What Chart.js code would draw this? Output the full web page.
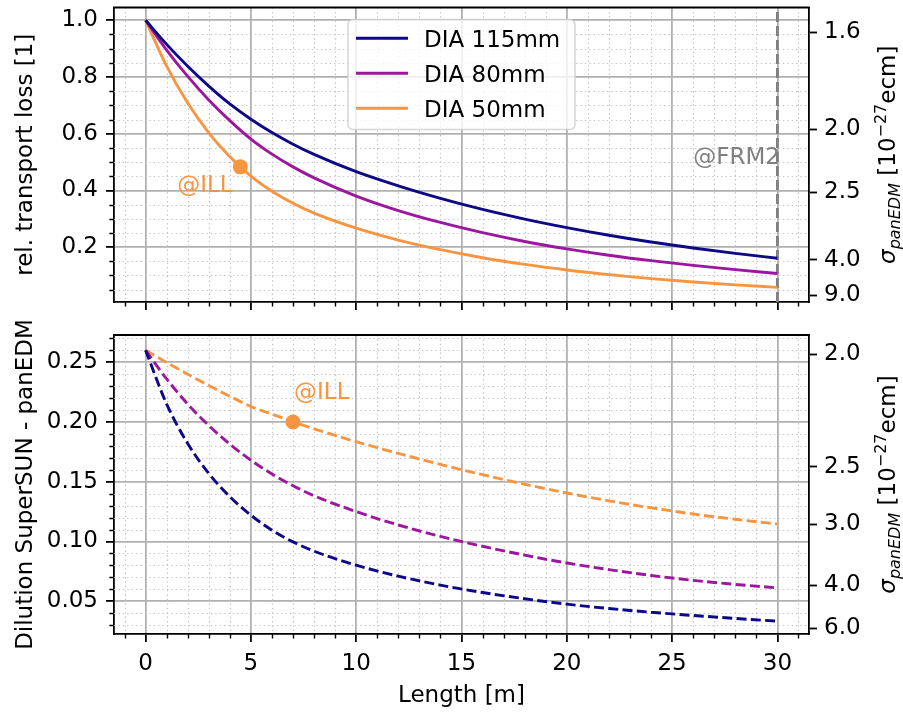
<!DOCTYPE html>
<html>
<head>
<meta charset="utf-8">
<script src="https://cdn.jsdelivr.net/npm/chart.js@4.4.0/dist/chart.umd.min.js"></script>
<style>
  html, body { margin:0; padding:0; background:#fff; }
  #wrap { position:relative; width:903px; height:713px; }
  canvas { position:absolute; left:0; }
  #top { top:0; }
  #bottom { top:320px; }
</style>
</head>
<body>
<div id="wrap">
  <canvas id="top" width="903" height="320"></canvas>
  <canvas id="bottom" width="903" height="393"></canvas>
</div>
<script>
// data
const lengths = [0, 1, 2, 3, 4, 5, 6, 7, 8, 10, 12, 14, 16, 18, 20, 22, 24, 26, 28, 30];
const names = ["DIA 115mm", "DIA 80mm", "DIA 50mm"];
const colors = ["#0d0887", "#9c179e", "#f89540"];

const loss115 = [1.000, 0.915, 0.838, 0.768, 0.705, 0.651, 0.604, 0.563, 0.527, 0.466, 0.416, 0.372, 0.333, 0.299, 0.269, 0.242, 0.218, 0.197, 0.178, 0.161];
const loss80  = [1.000, 0.895, 0.802, 0.719, 0.646, 0.581, 0.528, 0.483, 0.444, 0.380, 0.329, 0.287, 0.251, 0.220, 0.194, 0.1715, 0.1523, 0.1356, 0.1205, 0.107];
const loss50  = [1.000, 0.838, 0.708, 0.603, 0.519, 0.450, 0.397, 0.355, 0.320, 0.267, 0.225, 0.191, 0.1625, 0.139, 0.1195, 0.103, 0.089, 0.077, 0.067, 0.058];

const dil115 = [0.260, 0.215, 0.182, 0.157, 0.1375, 0.122, 0.1095, 0.0997, 0.0919, 0.0802, 0.0710, 0.0635, 0.0573, 0.0521, 0.0476, 0.0439, 0.0408, 0.0381, 0.0356, 0.0333];
const dil80  = [0.260, 0.236, 0.215, 0.197, 0.1815, 0.168, 0.1565, 0.1467, 0.1383, 0.125, 0.1138, 0.1043, 0.0960, 0.0886, 0.0820, 0.0765, 0.0716, 0.0675, 0.0641, 0.0612];
const dil50  = [0.260, 0.2498, 0.2400, 0.2305, 0.2215, 0.2130, 0.2065, 0.2003, 0.1943, 0.1835, 0.1737, 0.1645, 0.1559, 0.1479, 0.1406, 0.1340, 0.1282, 0.1230, 0.1186, 0.1146];

const illTop = {x: 4.5, y: 0.483};
const illBottom = {x: 7.0, y: 0.200};
const frm2X = 30;

// axes
const xTicks = [0, 5, 10, 15, 20, 25, 30];
const xRange = [-1.5, 31.5];
const topTicks = [0.2, 0.4, 0.6, 0.8, 1.0];
const topRange = [0.0065, 1.045];
const topSigma = ["1.6", "2.0", "2.5", "4.0", "9.0"];
const topSigmaAt = [0.957, 0.6155, 0.3932, 0.156, 0.031];
const botTicks = [0.05, 0.10, 0.15, 0.20, 0.25];
const botRange = [0.0226, 0.2728];
const botSigma = ["2.0", "2.5", "3.0", "4.0", "6.0"];
const botSigmaAt = [0.2565, 0.1626, 0.1143, 0.0635, 0.0272];

const FONT = "DejaVu Sans";
const FS = 23;

function series(vals) { return lengths.map((x, i) => ({x: x, y: vals[i]})); }

function minorValues(min, max, step, major) {
  const out = [];
  for (let k = Math.ceil(min / step - 1e-9); k * step <= max + 1e-9; k++) {
    const v = k * step;
    if (major.some(m => Math.abs(m - v) < step / 10)) continue;
    out.push(v);
  }
  return out;
}

function richText(ctx, parts, x, y, rot) {
  ctx.save();
  ctx.translate(x, y);
  ctx.rotate(rot);
  ctx.textAlign = "left";
  ctx.textBaseline = "alphabetic";
  let w = 0;
  parts.forEach(p => {
    ctx.font = (p.style || "") + " " + (p.size || FS) + "px '" + FONT + "'";
    p.w = ctx.measureText(p.t).width;
    w += p.w;
  });
  let cx = -w / 2;
  parts.forEach(p => {
    ctx.font = (p.style || "") + " " + (p.size || FS) + "px '" + FONT + "'";
    ctx.fillText(p.t, cx, p.dy || 0);
    cx += p.w;
  });
  ctx.restore();
}

const sigmaLabel = [
  {t: "σ", style: "italic"},
  {t: "panEDM", style: "italic", size: 16, dy: 5},
  {t: " [10"},
  {t: "−27", size: 16, dy: -9},
  {t: "ecm]"}
];

const decor = {
  id: "decor",
  beforeDatasetsDraw(chart, args, o) {
    const {ctx, chartArea: a} = chart;
    const x = chart.scales.x, y = chart.scales.y;
    ctx.save();
    ctx.beginPath();
    ctx.rect(a.left, a.top, a.right - a.left, a.bottom - a.top);
    ctx.clip();
    ctx.strokeStyle = "#c4c4c4";
    ctx.lineWidth = 1.2;
    ctx.setLineDash([1.4, 3]);
    ctx.beginPath();
    minorValues(x.min, x.max, 1, xTicks).forEach(v => {
      const p = Math.round(x.getPixelForValue(v)) + 0.5;
      ctx.moveTo(p, a.top); ctx.lineTo(p, a.bottom);
    });
    minorValues(y.min, y.max, o.yStep, o.yMajor).forEach(v => {
      const p = Math.round(y.getPixelForValue(v)) + 0.5;
      ctx.moveTo(a.left, p); ctx.lineTo(a.right, p);
    });
    ctx.stroke();
    ctx.restore();
  },
  afterDraw(chart, args, o) {
    const {ctx, chartArea: a} = chart;
    const x = chart.scales.x, y = chart.scales.y;
    ctx.save();
    // minor ticks
    ctx.strokeStyle = "#000";
    ctx.lineWidth = 1.4;
    ctx.beginPath();
    minorValues(x.min, x.max, 1, xTicks).forEach(v => {
      const p = Math.round(x.getPixelForValue(v)) + 0.5;
      ctx.moveTo(p, a.bottom); ctx.lineTo(p, a.bottom + 4.6);
    });
    minorValues(y.min, y.max, o.yStep, o.yMajor).forEach(v => {
      const p = Math.round(y.getPixelForValue(v)) + 0.5;
      ctx.moveTo(a.left, p); ctx.lineTo(a.left - 4.6, p);
    });
    ctx.stroke();
    // top spine
    ctx.lineWidth = 1.8;
    ctx.beginPath();
    ctx.moveTo(a.left - 0.9, a.top); ctx.lineTo(a.right + 0.9, a.top);
    ctx.stroke();

    // annotations
    ctx.font = FS + "px '" + FONT + "'";
    ctx.textAlign = "left";
    ctx.textBaseline = "alphabetic";
    (o.notes || []).forEach(n => {
      ctx.fillStyle = n.color;
      ctx.fillText(n.t, x.getPixelForValue(n.x), y.getPixelForValue(n.y));
    });

    // legend
    if (o.legend) {
      const lx = a.left + 234, ly = a.top + 12, lw = 227, lh = 110;
      ctx.fillStyle = "rgba(255,255,255,0.8)";
      ctx.strokeStyle = "rgba(204,204,204,0.8)";
      ctx.lineWidth = 1.5;
      ctx.beginPath();
      ctx.roundRect(lx, ly, lw, lh, 5);
      ctx.fill();
      ctx.stroke();
      names.forEach((nm, i) => {
        const base = ly + 27.7 + i * 35;
        ctx.strokeStyle = colors[i];
        ctx.lineWidth = 3;
        ctx.beginPath();
        ctx.moveTo(lx + 8, base - 9); ctx.lineTo(lx + 60, base - 9);
        ctx.stroke();
        ctx.fillStyle = "#000";
        ctx.fillText(nm, lx + 76, base);
      });
    }

    // axis titles
    ctx.fillStyle = "#000";
    const cy = (a.top + a.bottom) / 2;
    richText(ctx, [{t: o.yTitle}], 32, cy, -Math.PI / 2);
    richText(ctx, sigmaLabel, 895, cy, -Math.PI / 2);
    if (o.xTitle) richText(ctx, [{t: o.xTitle}], (a.left + a.right) / 2, 382, 0);
    ctx.restore();
  }
};

function fixBox(w, h) {
  return s => {
    if (w !== null) s.width = w;
    if (h !== null) s.height = h;
    s.paddingTop = 0; s.paddingBottom = 0; s.paddingLeft = 0; s.paddingRight = 0;
  };
}

function makePanel(canvasId, p) {
  const lineSets = p.values.map((vals, i) => ({
    label: names[i],
    data: series(vals),
    borderColor: colors[i],
    borderWidth: 2.9,
    borderDash: p.dash,
    pointRadius: 0,
    cubicInterpolationMode: "monotone",
    fill: false,
    order: 1
  }));
  const datasets = [{
    label: "@ILL",
    data: [p.ill],
    showLine: false,
    pointRadius: 7.5,
    pointBackgroundColor: colors[2],
    pointBorderWidth: 0,
    order: 0
  }].concat(lineSets, p.extra || []);

  const tickFont = {family: FONT, size: FS};
  return new Chart(document.getElementById(canvasId), {
    type: "line",
    data: {datasets: datasets},
    options: {
      responsive: false,
      animation: false,
      devicePixelRatio: 1,
      events: [],
      layout: {padding: {top: p.padTop, left: 0, right: 0, bottom: 0}},
      plugins: {
        legend: {display: false},
        tooltip: {enabled: false},
        decor: p.decor
      },
      scales: {
        x: {
          type: "linear",
          min: xRange[0], max: xRange[1],
          afterBuildTicks: s => { s.ticks = xTicks.map(v => ({value: v})); },
          afterFit: fixBox(null, p.xHeight),
          ticks: {display: p.xLabels, font: tickFont, color: "#000", padding: 8},
          grid: {color: "#b0b0b0", lineWidth: 1.8, tickColor: "#000", tickLength: 8, tickWidth: 1.8},
          border: {color: "#000", width: 1.8}
        },
        y: {
          type: "linear",
          position: "left",
          min: p.range[0], max: p.range[1],
          afterBuildTicks: s => { s.ticks = p.yTicks.map(v => ({value: v})); },
          afterFit: fixBox(114, null),
          ticks: {font: tickFont, color: "#000", padding: 8, callback: v => v.toFixed(p.digits)},
          grid: {color: "#b0b0b0", lineWidth: 1.8, tickColor: "#000", tickLength: 8, tickWidth: 1.8},
          border: {color: "#000", width: 1.8}
        },
        y2: {
          type: "linear",
          position: "right",
          min: p.range[0], max: p.range[1],
          afterBuildTicks: s => { s.ticks = p.sigmaAt.map(v => ({value: v})); },
          afterFit: fixBox(94, null),
          ticks: {
            font: tickFont, color: "#000", padding: 7,
            callback: (v, i) => p.sigma[i]
          },
          grid: {drawOnChartArea: false, tickColor: "#000", tickLength: 8, tickWidth: 1.8},
          border: {color: "#000", width: 1.8}
        }
      }
    },
    plugins: [decor]
  });
}

makePanel("top", {
  values: [loss115, loss80, loss50],
  dash: [],
  ill: illTop,
  range: topRange,
  yTicks: topTicks,
  digits: 1,
  sigma: topSigma,
  sigmaAt: topSigmaAt,
  padTop: 3,
  xHeight: 18,
  xLabels: false,
  extra: [{
    label: "@FRM2",
    data: [{x: frm2X, y: topRange[0]}, {x: frm2X, y: topRange[1]}],
    borderColor: "#808080",
    borderWidth: 2.8,
    borderDash: [10, 4],
    pointRadius: 0,
    order: 2
  }],
  decor: {
    yStep: 0.05, yMajor: topTicks,
    yTitle: "rel. transport loss [1]",
    legend: true,
    notes: [
      {t: "@ILL", x: 1.5, y: 0.396, color: colors[2]},
      {t: "@FRM2", x: 26.0, y: 0.492, color: "#808080"}
    ]
  }
});

makePanel("bottom", {
  values: [dil115, dil80, dil50],
  dash: [10, 4.3],
  ill: illBottom,
  range: botRange,
  yTicks: botTicks,
  digits: 2,
  sigma: botSigma,
  sigmaAt: botSigmaAt,
  padTop: 15,
  xHeight: 79,
  xLabels: true,
  decor: {
    yStep: 0.01, yMajor: botTicks,
    yTitle: "Dilution SuperSUN - panEDM",
    xTitle: "Length [m]",
    notes: [
      {t: "@ILL", x: 7.05, y: 0.219, color: colors[2]}
    ]
  }
});
</script>
</body>
</html>
